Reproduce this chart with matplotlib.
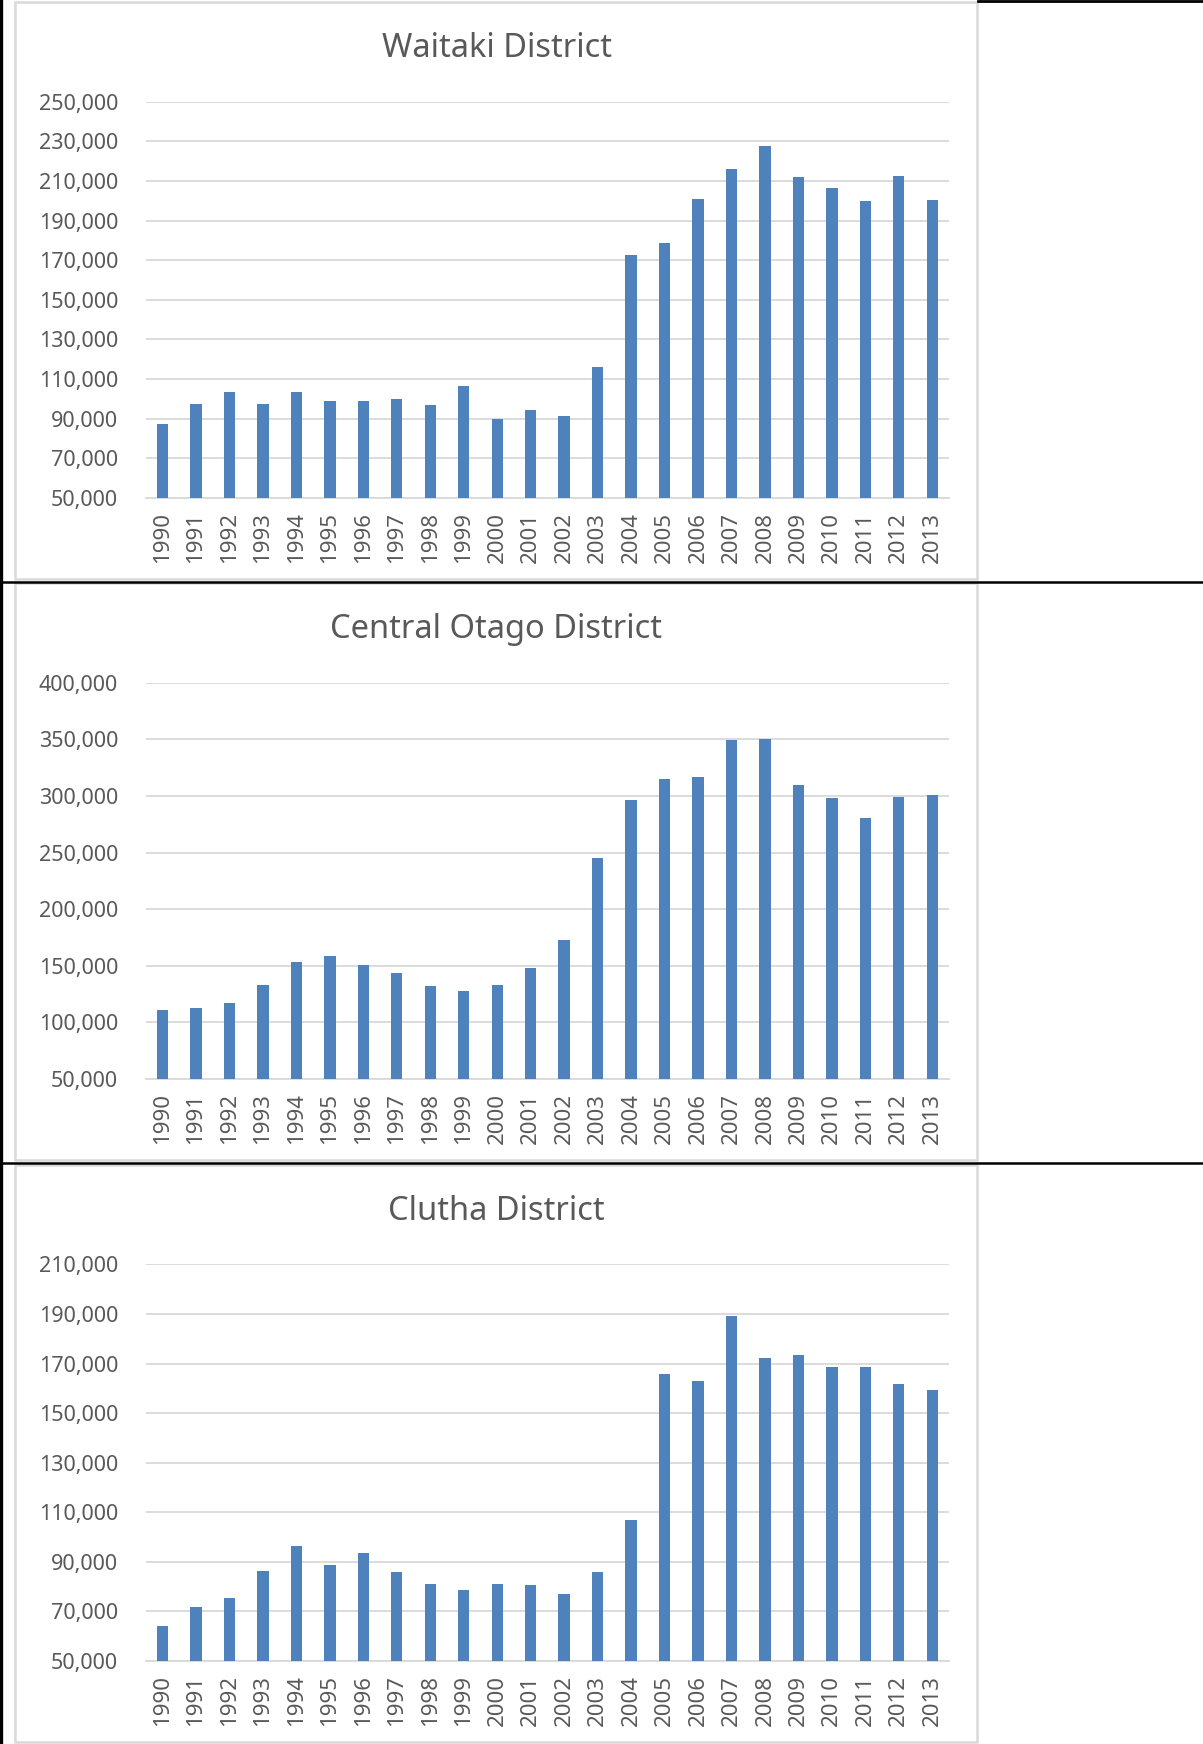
import matplotlib
matplotlib.use("Agg")
import matplotlib.pyplot as plt
from matplotlib.patches import Rectangle
from matplotlib.lines import Line2D
from matplotlib.ticker import FuncFormatter

plt.rcParams['font.family'] = ['Noto Sans', 'DejaVu Sans']

years = [str(y) for y in range(1990, 2014)]

waitaki = [87100, 97500, 103300, 97500, 103300, 98700, 98700, 100000, 97000, 106400,
           89600, 94300, 91500, 116300, 172700, 178500, 201100, 216000, 227600, 212100,
           206700, 199800, 212700, 200300]
central_otago = [111200, 112600, 117000, 133200, 153500, 158900, 150400, 143300, 131800, 127400,
                 132800, 147700, 172800, 245500, 296200, 315500, 316500, 349900, 350600, 309700,
                 298500, 280300, 299600, 300600]
clutha = [64100, 71900, 75500, 86400, 96200, 88800, 93600, 85800, 81200, 78600,
          81200, 80600, 77000, 85800, 107000, 165800, 162900, 189200, 172300, 173600,
          168600, 168600, 161700, 159300]

titles = ["Waitaki District", "Central Otago District", "Clutha District"]
series = [waitaki, central_otago, clutha]
yticks_list = [list(range(50000, 250001, 20000)),
               list(range(50000, 400001, 50000)),
               list(range(50000, 210001, 20000))]

W, H = 1203, 1744
fig = plt.figure(figsize=(W / 100, H / 100), dpi=100)

BAR = '#4F81BD'
GRID = '#D9D9D9'
TXT = '#595959'

# panel geometry in pixels (top, bottom) for boxes and plot areas
boxes = [(2, 579), (583, 1160), (1165, 1742)]
plots = [(101.8, 497.9), (682.9, 1079.0), (1264.4, 1661.0)]
title_y = [48.5, 629.5, 1211.5]
px_left, px_right = 145.8, 949.0
box_left, box_right = 15, 977

def fx(x):
    return x / W

def fy(y):
    return 1 - y / H

for (bt, bb) in boxes:
    fig.add_artist(Rectangle((fx(box_left), fy(bb)), fx(box_right - box_left), (bb - bt) / H,
                             transform=fig.transFigure, fill=False, edgecolor=GRID, linewidth=1.8,
                             zorder=0))

# black table lines
fig.add_artist(Line2D([fx(1.2), fx(1.2)], [0, 1], transform=fig.transFigure, color='black', linewidth=2.4))
fig.add_artist(Line2D([fx(978), 1], [fy(1.0), fy(1.0)], transform=fig.transFigure, color='black', linewidth=2.0))
fig.add_artist(Line2D([0, 1], [fy(581.6), fy(581.6)], transform=fig.transFigure, color='black', linewidth=1.8))
fig.add_artist(Line2D([0, 1], [fy(1163.2), fy(1163.2)], transform=fig.transFigure, color='black', linewidth=1.8))

fmt = FuncFormatter(lambda v, p: f"{int(v):,}")

for i in range(3):
    pt, pb = plots[i]
    ax = fig.add_axes([fx(px_left), fy(pb), fx(px_right - px_left), (pb - pt) / H])
    x = list(range(len(years)))
    ax.bar(x, series[i], width=0.34, color=BAR, zorder=3)
    yt = yticks_list[i]
    ax.set_ylim(yt[0], yt[-1])
    ax.set_xlim(-0.5, len(years) - 0.5)
    ax.set_yticks(yt)
    ax.yaxis.set_major_formatter(fmt)
    ax.set_xticks(x)
    ax.set_xticklabels(years, rotation=90)
    ax.grid(axis='y', color=GRID, linewidth=1.3, zorder=0)
    ax.set_axisbelow(True)
    for s in ['top', 'right', 'left']:
        ax.spines[s].set_visible(False)
    ax.spines['bottom'].set_color(GRID)
    ax.spines['bottom'].set_linewidth(1.3)
    ax.tick_params(axis='y', length=0, pad=20, labelsize=15.5, labelcolor=TXT)
    ax.tick_params(axis='x', length=0, pad=10, labelsize=16, labelcolor=TXT)
    fig.text(fx(496.5), fy(title_y[i]), titles[i], ha='center', va='center',
             fontsize=23.5, color=TXT)

fig.savefig("out.png", dpi=100, facecolor='white')
